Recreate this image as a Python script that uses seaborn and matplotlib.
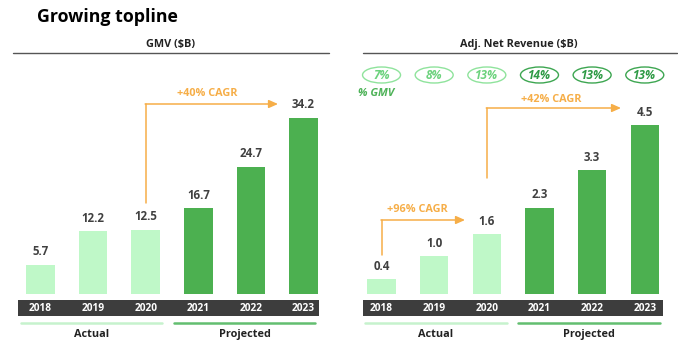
import matplotlib
matplotlib.use("Agg")
import matplotlib.pyplot as plt
from matplotlib.patches import Rectangle, Ellipse
from matplotlib.lines import Line2D
from matplotlib.transforms import blended_transform_factory
import seaborn as sns
import pandas as pd

# ---- data ----
years = ["2018", "2019", "2020", "2021", "2022", "2023"]
gmv = [5.7, 12.2, 12.5, 16.7, 24.7, 34.2]
net_revenue = [0.4, 1.0, 1.6, 2.3, 3.3, 4.5]
pct_gmv = ["7%", "8%", "13%", "14%", "13%", "13%"]
phase = ["Actual", "Actual", "Actual", "Projected", "Projected", "Projected"]
cagr_gmv = "+40% CAGR"
cagr_rev_actual = "+96% CAGR"
cagr_rev_proj = "+42% CAGR"

LIGHT = "#BFF8C8"
DARK = "#4CB050"
BAND = "#3D3D3D"
ORANGE = "#F6AE48"
VALUE = "#404040"
OVAL_LIGHT_EDGE = "#8FE39C"
OVAL_LIGHT_TEXT = "#6CD27D"
OVAL_DARK_EDGE = "#3DA651"
OVAL_DARK_TEXT = "#2E9A45"

sns.set_theme(style="white")
plt.rcParams["font.family"] = ["Open Sans", "DejaVu Sans"]

W, H = 678, 347
fig = plt.figure(figsize=(W / 100, H / 100), dpi=100)


def fx(p):
    return p / W


def fy(p):
    return 1 - p / H


palette = {"Actual": LIGHT, "Projected": DARK}
BASE = 294      # pixel row of the bar baseline
AX_H = 254      # axes height in pixels


def panel(left_px, right_px, values, px_per_unit):
    ax = fig.add_axes([fx(left_px), fy(BASE), (right_px - left_px) / W, AX_H / H])
    df = pd.DataFrame({"year": years, "value": values, "phase": phase})
    sns.barplot(data=df, x="year", y="value", hue="phase", palette=palette,
                dodge=False, width=0.54, linewidth=0, saturation=1,
                legend=False, ax=ax)
    ax.set_xlim(-0.5, 5.5)
    ax.set_ylim(0, AX_H / px_per_unit)
    ax.axis("off")
    for i, v in enumerate(values):
        ax.annotate(f"{v:.1f}", (i, v), xytext=(0, 4.5), textcoords="offset points",
                    ha="center", va="bottom", fontsize=8.3, fontweight="bold",
                    color=VALUE)
    return ax


axL = panel(14.2, 329.8, gmv, 5.16)
axR = panel(355.2, 671.1, net_revenue, 37.6)

# ---- title and panel headers ----
fig.text(fx(37), fy(17), "Growing topline", fontsize=12.8, fontweight="bold",
         color="black", ha="left", va="center")
for cx, x0, x1, label in [(170, 13, 329, "GMV ($B)"),
                          (519, 363, 677, "Adj. Net Revenue ($B)")]:
    fig.text(fx(cx), fy(44), label, fontsize=7.8, fontweight="bold",
             color="#222222", ha="center", va="center")
    fig.add_artist(Line2D([fx(x0), fx(x1)], [fy(53), fy(53)], color="#555555",
                          lw=1.0, transform=fig.transFigure))

# ---- year band under the bars ----
for x0, x1 in [(18, 319), (363, 663)]:
    fig.add_artist(Rectangle((fx(x0), fy(316)), fx(x1) - fx(x0), 16 / H,
                             facecolor=BAND, edgecolor="none", zorder=1,
                             transform=fig.transFigure))
for ax in (axL, axR):
    tr = blended_transform_factory(ax.transData, fig.transFigure)
    for i, y in enumerate(years):
        fig.text(i, fy(308.5), y, transform=tr, ha="center", va="center",
                 fontsize=7.3, fontweight="bold", color="white", zorder=3)

# ---- Actual / Projected brackets ----
for (a0, a1, acx), (p0, p1, pcx) in [((21, 162, 92), (174, 315, 245)),
                                     ((365, 507, 436), (518, 660, 589))]:
    fig.add_artist(Line2D([fx(a0), fx(a1)], [fy(323), fy(323)], color="#C6F2CD",
                          lw=1.8, transform=fig.transFigure))
    fig.add_artist(Line2D([fx(p0), fx(p1)], [fy(323), fy(323)], color="#63BE70",
                          lw=1.8, transform=fig.transFigure))
    fig.text(fx(acx), fy(337), "Actual", fontsize=7.8, fontweight="bold",
             color="#222222", ha="center", va="baseline")
    fig.text(fx(pcx), fy(337), "Projected", fontsize=7.8, fontweight="bold",
             color="#222222", ha="center", va="baseline")

# ---- % of GMV ovals ----
for i, pct in enumerate(pct_gmv):
    proj = phase[i] == "Projected"
    cx = axR.transData.transform((i, 0))[0]
    fig.add_artist(Ellipse((cx / W, fy(75)), 38 / W, 16 / H, facecolor="none",
                           edgecolor=OVAL_DARK_EDGE if proj else OVAL_LIGHT_EDGE,
                           lw=1.0, transform=fig.transFigure))
    fig.text(cx / W, fy(75.5), pct, fontsize=8.5, fontweight="bold", style="italic",
             color=OVAL_DARK_TEXT if proj else OVAL_LIGHT_TEXT,
             ha="center", va="center")
fig.text(fx(358), fy(94), "% GMV", fontsize=8, fontweight="bold", style="italic",
         color="#4DB257", ha="left", va="center")


# ---- CAGR arrows ----
def cagr(ax, i0, x_end_px, y_bottom, y_top, text, text_cx, text_y):
    tr = blended_transform_factory(ax.transData, fig.transFigure)
    ax.add_line(Line2D([i0, i0], [fy(y_bottom), fy(y_top)], color=ORANGE, lw=1.1,
                       transform=tr, clip_on=False))
    x_start = ax.transData.transform((i0, 0))[0]
    ax.annotate("", xy=(fx(x_end_px), fy(y_top)), xycoords="figure fraction",
                xytext=(x_start / W - 0.0008, fy(y_top)), textcoords="figure fraction",
                arrowprops=dict(arrowstyle="-|>,head_length=0.45,head_width=0.2",
                                color=ORANGE, lw=1.1, shrinkA=0, shrinkB=0))
    fig.text(fx(text_cx), fy(text_y), text, fontsize=7.8, fontweight="bold",
             color=ORANGE, ha="center", va="center")


cagr(axL, 2, 278, 203, 104, cagr_gmv, 207, 93)
cagr(axR, 0, 465, 255, 220, cagr_rev_actual, 417, 209)
cagr(axR, 2, 621, 178, 108, cagr_rev_proj, 551, 100)

fig.savefig("out.png", dpi=100, facecolor="white")
